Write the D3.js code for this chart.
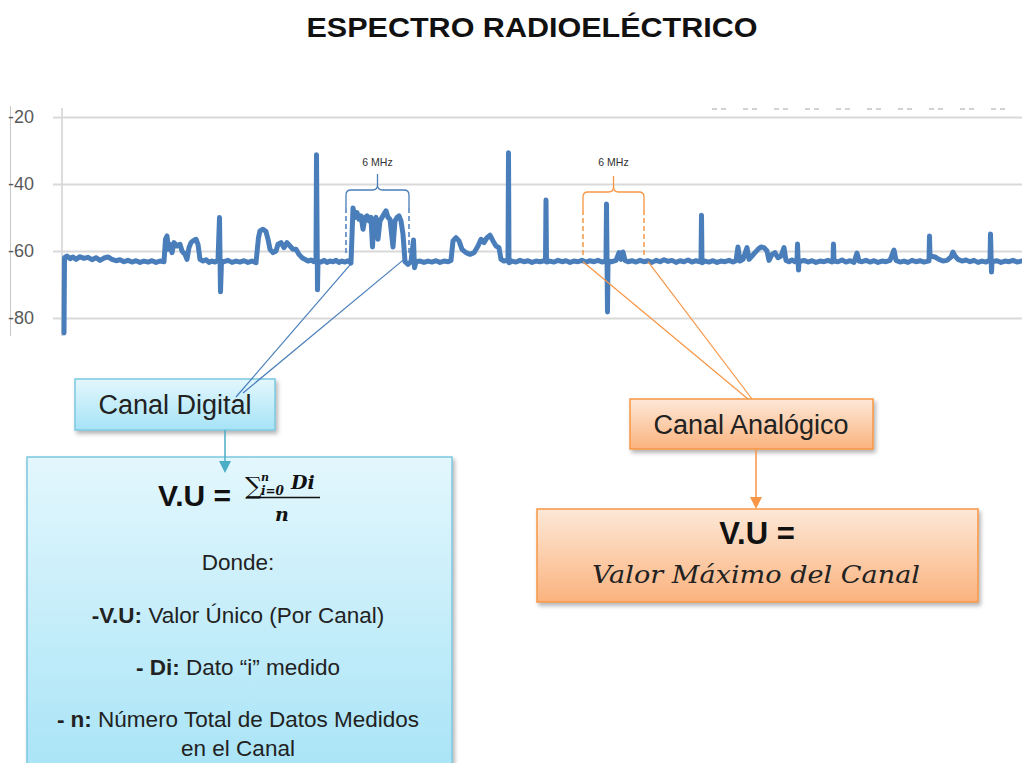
<!DOCTYPE html>
<html>
<head>
<meta charset="utf-8">
<script src="https://cdn.jsdelivr.net/npm/d3@7"></script>
<style>
  body { margin: 0; background: #fff; }
  svg { display: block; font-family: "Liberation Sans", Arial, sans-serif; }
</style>
</head>
<body>
<svg id="chart" width="1022" height="763"></svg>
<script>
// Spectrum trace (MHz, dBm)
var freqMHz = [
  470.2, 470.25, 470.5, 470.8, 471.1, 471.4, 471.8, 472.2, 472.6, 473.0, 473.4, 473.8, 474.2, 474.6, 475.0, 475.4,
  475.8, 476.2, 476.6, 477.0, 477.4, 477.8, 478.2, 478.6, 479.0, 479.4, 479.8, 480.2,
  480.35, 480.5, 480.65, 480.8, 481.0, 481.2, 481.5, 481.8, 482.0, 482.3, 482.5, 482.7, 482.9, 483.1, 483.4, 483.6, 483.8,
  484.1, 484.4, 484.7, 485.0, 485.3, 485.6, 485.75, 485.85, 485.95,
  486.2, 486.6, 487.0, 487.4, 487.8, 488.2, 488.6, 489.0, 489.4,
  489.65, 489.8, 490.1, 490.4, 490.6, 490.8, 491.1, 491.4, 491.6, 491.9, 492.2, 492.5, 492.8, 493.1, 493.4, 493.7, 494.0, 494.3,
  494.6, 494.9, 495.2, 495.4, 495.45, 495.55, 495.6,
  495.9, 496.2, 496.5, 496.8, 497.1, 497.4, 497.7, 498.0, 498.3, 498.6, 498.9,
  499.1, 499.3, 499.5, 499.7, 499.9, 500.1, 500.3, 500.5, 500.7, 500.9, 501.05, 501.2, 501.4, 501.6, 501.8, 502.0, 502.2,
  502.4, 502.6, 502.8, 503.1, 503.3, 503.5, 503.7, 503.9, 504.1, 504.3, 504.6, 504.9,
  505.15, 505.25, 505.4, 505.8, 506.2, 506.6, 507.0, 507.4, 507.8, 508.2, 508.6, 508.9,
  509.1, 509.4, 509.7, 510.0, 510.4, 510.8, 511.2, 511.6, 511.9, 512.2, 512.5, 512.8, 513.1, 513.4, 513.7, 513.9, 514.2, 514.5,
  514.6, 514.65, 514.7, 515.0, 515.4, 515.8, 516.2, 516.6, 517.0, 517.4, 517.8, 518.2, 518.35, 518.4, 518.45,
  518.8, 519.2, 519.6, 520.0, 520.4, 520.8, 521.2, 521.6, 522.0, 522.4, 522.8, 523.2, 523.6, 524.0, 524.3,
  524.4, 524.45, 524.55, 524.6,
  525.0, 525.4, 525.7, 525.9, 526.1, 526.3, 526.6, 527.0, 527.4, 527.8, 528.2, 528.6, 529.0, 529.4, 529.8, 530.2, 530.6,
  531.0, 531.4, 531.8, 532.2, 532.6, 533.0, 533.4, 533.8, 533.9, 533.95, 534.0,
  534.3, 534.7, 535.1, 535.5, 535.9, 536.3, 536.7, 537.1, 537.4, 537.6, 537.8, 538.1, 538.5, 538.7, 539.0, 539.3, 539.6, 539.9,
  540.2, 540.5, 540.7, 541.0, 541.3, 541.6, 541.9, 542.2, 542.4, 542.7, 543.0, 543.3, 543.5, 543.55, 543.65, 543.7,
  544.2, 544.6, 545.0, 545.4, 545.8, 546.2, 546.6, 547.0, 547.1, 547.15, 547.2,
  547.6, 548.0, 548.4, 548.8, 549.2, 549.5, 549.7, 550.0, 550.4, 550.8, 551.2, 551.6, 552.0, 552.4, 552.8, 553.2, 553.4,
  553.8, 554.2, 554.6, 555.0, 555.4, 555.8, 556.2, 556.6, 556.7, 556.75, 556.8, 557.3, 557.7, 558.1, 558.5, 558.9, 559.1,
  559.3, 559.6, 560.0, 560.4, 560.8, 561.2, 561.6, 562.0, 562.4, 562.7, 562.8, 562.85, 562.95, 563.0,
  563.5, 563.9, 564.3, 564.7, 565.1, 565.5, 565.9
];
var levelDbm = [
  -84.5, -62, -61.5, -62.3, -61.8, -62.5, -61.7, -62.2, -61.9, -62.6, -62.0, -62.8, -62.1, -61.8, -62.5, -62.9,
  -62.6, -63.2, -62.8, -63.3, -62.9, -63.4, -63.0, -63.3, -62.9, -63.4, -63.0, -63.2,
  -56.5, -55.5, -59.5, -58, -60.5, -57.5, -58.5, -58, -60, -61, -62.5, -59, -57.5, -57, -56.5, -58, -62.5,
  -63, -62.6, -63.4, -63, -63.3, -62.8, -50, -72.2, -63,
  -63.2, -62.8, -63.4, -63, -63.3, -62.9, -63.4, -63, -63.5,
  -56, -54, -53.5, -54.2, -56.5, -59.5, -60.5, -60, -58, -57.5, -59, -57.5, -58.5, -59.5, -59.5, -61, -62, -62.5,
  -63, -62.7, -63.2, -63, -31.3, -71.6, -63,
  -63.3, -62.8, -63.4, -63, -63.2, -62.8, -63.4, -63, -63.3, -62.9, -63.6,
  -47.2, -50, -48.5, -50.5, -49.5, -53.5, -50, -49.5, -51, -50, -58.8, -51, -50, -56.5, -51, -50, -49,
  -48, -50, -50.5, -58.8, -51, -50, -49.5, -51, -55, -63.2, -64, -63.2,
  -56.7, -65, -63.2, -63, -63.4, -63, -63.3, -62.9, -63.4, -63, -63.2, -62.8,
  -57, -56, -57, -59.5, -60.5, -61, -60.5, -58.5, -56.5, -57.5, -56, -55.3, -57, -58.5, -59, -62.5, -63, -62.8,
  -63, -30.7, -63.5, -63, -63.3, -62.8, -63.2, -62.9, -63.4, -63, -63.2, -62.9, -63, -44.8, -63.3,
  -63, -63.3, -62.8, -63.2, -62.9, -63.4, -63, -63.2, -62.8, -63.3, -62.9, -63.2, -62.8, -63.3, -63,
  -63, -46, -78.2, -63,
  -63.2, -62.8, -60.5, -62.5, -60.3, -62.8, -63.2, -62.9, -63.3, -62.8, -63.2, -62.9, -63.4, -62.8, -63.2, -62.6, -63.1,
  -62.8, -63.4, -62.9, -63.2, -62.7, -63.3, -62.9, -63.2, -63, -49.3, -63.5,
  -63, -63.3, -62.9, -63.4, -63, -63.2, -62.8, -63.3, -62.9, -58.8, -63, -62.5, -59, -62.5, -61.5, -60.5, -59.5, -58.8,
  -59, -60, -62.8, -61, -60.5, -62, -61.5, -59, -62.8, -63.2, -62.7, -63.2, -63, -57.9, -65.7, -63.2,
  -62.8, -63.3, -62.9, -63.4, -63, -63.2, -62.8, -63.3, -63, -57.9, -63,
  -63.2, -62.7, -63.3, -62.9, -63.4, -60.6, -63, -63.2, -62.8, -63.3, -62.9, -63.4, -63, -63.2, -62.8, -59.7, -62.8,
  -63.3, -63, -63.4, -62.8, -63.2, -62.9, -63.3, -63, -63, -55.5, -61.5, -61.8, -62.5, -63, -62.8, -61.8, -60.3,
  -61.5, -62.5, -63, -62.7, -63.2, -62.8, -63.4, -63, -63.3, -62.8, -63, -54.9, -66.3, -63.2,
  -62.9, -63.4, -63, -63.2, -62.8, -63.3, -63
];
var yTicks = [-20, -40, -60, -80];
var freqRange = [470, 566];

// 6 MHz channels marked with braces
var digitalChannel = [498.4, 504.7];
var analogChannel = [522.1, 528.2];
var channelLabel = "6 MHz";
// trace points where the callout lines start
var digitalCallout = [[499.0, -63.5], [504.2, -62.5]];
var analogCallout = [[522.1, -63.2], [528.6, -63.2]];

var blue = "#4a7ebb";
var orange = "#f79646";

var svg = d3.select("#chart");

// gradients and shadow
var defs = svg.append("defs");
var gBlue = defs.append("linearGradient").attr("id", "gBlue").attr("x1", 0).attr("y1", 0).attr("x2", 0).attr("y2", 1);
gBlue.append("stop").attr("offset", "0%").attr("stop-color", "#e3f7fd");
gBlue.append("stop").attr("offset", "100%").attr("stop-color", "#a6e3f6");
var gOrange = defs.append("linearGradient").attr("id", "gOrange").attr("x1", 0).attr("y1", 0).attr("x2", 0).attr("y2", 1);
gOrange.append("stop").attr("offset", "0%").attr("stop-color", "#fde8d8");
gOrange.append("stop").attr("offset", "100%").attr("stop-color", "#fbb37e");
defs.append("filter").attr("id", "shadow").attr("x", "-5%").attr("y", "-5%").attr("width", "115%").attr("height", "130%")
  .append("feDropShadow").attr("dx", 2).attr("dy", 3).attr("stdDeviation", 2)
  .attr("flood-color", "#000").attr("flood-opacity", 0.3);

// Title
svg.append("text")
  .attr("x", 532).attr("y", 37)
  .attr("text-anchor", "middle")
  .attr("textLength", 451).attr("lengthAdjust", "spacingAndGlyphs")
  .style("font-size", "27px").style("font-weight", "bold").style("fill", "#111")
  .text("ESPECTRO RADIOELÉCTRICO");

// Scales
var x = d3.scaleLinear().domain(freqRange).range([62, 1022]);
var y = d3.scaleLinear().domain([-20, -80]).range([117, 318]);

// frame lines
svg.append("line").attr("x1", 10.5).attr("x2", 10.5).attr("y1", 106).attr("y2", 336)
  .style("stroke", "#c8c8c8");
svg.append("line").attr("x1", 62).attr("x2", 62).attr("y1", 108).attr("y2", 336)
  .style("stroke", "#dcdcdc").style("stroke-width", 2);

// leftover legend dashes at top right
svg.append("line").attr("x1", 712).attr("x2", 1008).attr("y1", 109).attr("y2", 109)
  .style("stroke", "#c4c4c4").style("stroke-width", 1.5).style("stroke-dasharray", "5,4,5,17");

// Y axis with gridlines
var yAxis = svg.append("g")
  .attr("transform", "translate(53,0)")
  .call(d3.axisLeft(y).tickValues(yTicks).tickSize(-(1022 - 53)).tickPadding(19)
    .tickFormat(function(d) { return String(d); }));
yAxis.select(".domain").remove();
yAxis.selectAll(".tick line").style("stroke", "#d9d9d9").style("stroke-width", 2);
yAxis.selectAll(".tick text")
  .style("font-size", "18px").style("fill", "#595959")
  .style("font-family", "'Liberation Sans', Arial, sans-serif");

// Trace
var trace = freqMHz.map(function(f, i) { return [f, levelDbm[i]]; });
svg.append("path")
  .datum(trace)
  .attr("d", d3.line().x(function(d) { return x(d[0]); }).y(function(d) { return y(d[1]); }))
  .style("fill", "none").style("stroke", blue)
  .style("stroke-width", 5).style("stroke-linejoin", "round").style("stroke-linecap", "round");

// Braces
function brace(ch, color, yTop, ySide, yEnd) {
  var x0 = x(ch[0]), x1 = x(ch[1]), xm = (x0 + x1) / 2, r = 5;
  var p = "M" + x0 + "," + ySide + " L" + x0 + "," + (yTop + r) +
    " Q" + x0 + "," + yTop + " " + (x0 + r) + "," + yTop +
    " L" + (xm - r) + "," + yTop + " Q" + xm + "," + yTop + " " + xm + "," + (yTop - r) +
    " L" + xm + "," + (yTop - 16) +
    " M" + xm + "," + (yTop - r) + " Q" + xm + "," + yTop + " " + (xm + r) + "," + yTop +
    " L" + (x1 - r) + "," + yTop + " Q" + x1 + "," + yTop + " " + x1 + "," + (yTop + r) +
    " L" + x1 + "," + ySide;
  svg.append("path").attr("d", p)
    .style("fill", "none").style("stroke", color).style("stroke-width", 1.3);
  [x0, x1].forEach(function(xx) {
    svg.append("line").attr("x1", xx).attr("x2", xx).attr("y1", ySide).attr("y2", yEnd)
      .style("stroke", color).style("stroke-width", 1.5).style("stroke-dasharray", "5,3");
  });
  svg.append("text").attr("x", xm).attr("y", 166)
    .attr("text-anchor", "middle")
    .style("font-size", "10.5px").style("fill", "#333")
    .text(channelLabel);
}
brace(digitalChannel, blue, 190, 208, 256);
brace(analogChannel, orange, 192, 210, 258);

// Boxes
function box(x0, y0, w, h, fill, stroke) {
  svg.append("rect").attr("x", x0).attr("y", y0).attr("width", w).attr("height", h)
    .style("fill", fill).style("stroke", stroke).style("stroke-width", 1.5)
    .attr("filter", "url(#shadow)");
}
function arrow(xx, y0, y1, color) {
  svg.append("line").attr("x1", xx).attr("x2", xx).attr("y1", y0).attr("y2", y1 - 10)
    .style("stroke", color).style("stroke-width", 1.5);
  svg.append("path").attr("d", "M" + (xx - 6) + "," + (y1 - 12) + " L" + (xx + 6) + "," + (y1 - 12) + " L" + xx + "," + y1 + " Z")
    .style("fill", color);
}

box(75, 379, 200, 51, "url(#gBlue)", "#7cc8df");
svg.append("text").attr("x", 175).attr("y", 414).attr("text-anchor", "middle")
  .style("font-size", "27px").style("fill", "#222").text("Canal Digital");

box(27, 457, 425, 330, "url(#gBlue)", "#7cc8df");
arrow(225, 430, 473, "#4bacc6");

box(630, 399, 243, 50, "url(#gOrange)", orange);
svg.append("text").attr("x", 751).attr("y", 434).attr("text-anchor", "middle")
  .style("font-size", "27px").style("fill", "#222").text("Canal Analógico");

box(537, 509, 441, 93, "url(#gOrange)", orange);
arrow(756, 449, 509, orange);

// Callout lines (drawn over the label boxes)
var digitalEnds = [[236, 397], [243, 393]];
var analogEnds = [[748, 399], [752, 399]];
digitalCallout.forEach(function(d, i) {
  svg.append("line").attr("x1", x(d[0])).attr("y1", y(d[1]))
    .attr("x2", digitalEnds[i][0]).attr("y2", digitalEnds[i][1])
    .style("stroke", blue).style("stroke-width", 1.2);
});
analogCallout.forEach(function(d, i) {
  svg.append("line").attr("x1", x(d[0])).attr("y1", y(d[1]))
    .attr("x2", analogEnds[i][0]).attr("y2", analogEnds[i][1])
    .style("stroke", orange).style("stroke-width", 1.2);
});

// Formula in blue box
svg.append("text").attr("x", 158).attr("y", 506)
  .style("font-size", "30px").style("font-weight", "bold").style("fill", "#111").text("V.U =");
svg.append("text").attr("x", 245).attr("y", 494)
  .style("font-family", "'DejaVu Serif', serif").style("font-size", "24px").style("fill", "#111").text("∑");
svg.append("text").attr("x", 261).attr("y", 481)
  .style("font-family", "'DejaVu Serif', serif").style("font-size", "11px").style("font-style", "italic").style("font-weight", "bold").style("fill", "#111").text("n");
svg.append("text").attr("x", 261).attr("y", 495)
  .style("font-family", "'DejaVu Serif', serif").style("font-size", "12px").style("font-style", "italic").style("font-weight", "bold").style("fill", "#111").text("i=0");
svg.append("text").attr("x", 291).attr("y", 489)
  .style("font-family", "'DejaVu Serif', serif").style("font-size", "19px").style("font-style", "italic").style("font-weight", "bold").style("fill", "#111").text("Di");
svg.append("line").attr("x1", 246).attr("x2", 320).attr("y1", 497.5).attr("y2", 497.5)
  .style("stroke", "#111").style("stroke-width", 1.5);
svg.append("text").attr("x", 282).attr("y", 521).attr("text-anchor", "middle")
  .style("font-family", "'DejaVu Serif', serif").style("font-size", "19px").style("font-style", "italic").style("font-weight", "bold").style("fill", "#111").text("n");

var notes = [
  { y: 570, parts: [["", "Donde:"]] },
  { y: 623, parts: [["b", "-V.U:"], ["", " Valor Único (Por Canal)"]] },
  { y: 675, parts: [["b", "- Di:"], ["", " Dato “i” medido"]] },
  { y: 727, parts: [["b", "- n:"], ["", " Número Total de Datos Medidos"]] },
  { y: 756, parts: [["", "en el Canal"]] }
];
notes.forEach(function(n) {
  var t = svg.append("text").attr("x", 238).attr("y", n.y).attr("text-anchor", "middle")
    .style("font-size", "22.5px").style("fill", "#222");
  n.parts.forEach(function(p) {
    t.append("tspan").style("font-weight", p[0] == "b" ? "bold" : "normal").text(p[1]);
  });
});

// Formula in orange box
svg.append("text").attr("x", 757).attr("y", 544).attr("text-anchor", "middle")
  .style("font-size", "31px").style("font-weight", "bold").style("fill", "#111").text("V.U =");
svg.append("text").attr("x", 756).attr("y", 583).attr("text-anchor", "middle")
  .attr("textLength", 328).attr("lengthAdjust", "spacingAndGlyphs")
  .style("font-family", "'DejaVu Serif', serif").style("font-style", "italic")
  .style("font-size", "25px").style("fill", "#222").text("Valor Máximo del Canal");
</script>
</body>
</html>
